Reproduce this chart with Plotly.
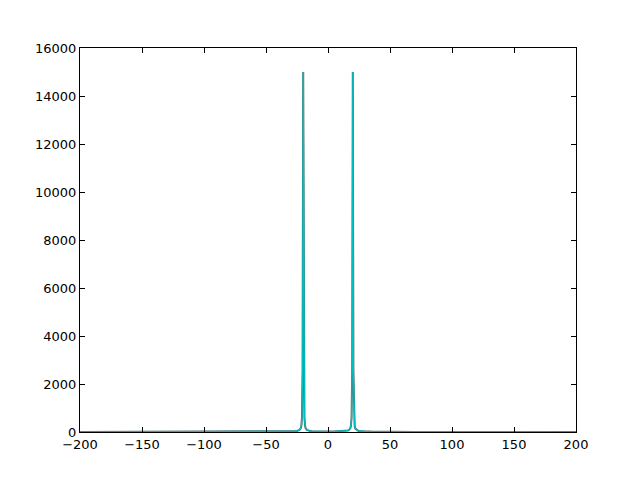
import plotly.graph_objects as go

freq = [-200, -150, -100, -70, -50, -40, -35, -30, -27, -25, -24, -23, -22, -21.5, -21, -20.5, -20,
        -19.5, -19, -18.5, -18, -17, -16, -15, -13, -10, -5, 0,
        5, 10, 13, 15, 16, 17, 18, 18.5, 19, 19.5,
        20, 20.5, 21, 21.5, 22, 23, 24, 25, 27, 30, 35, 40, 50, 70, 100, 150, 200]
mag = [1, 2, 3, 5, 8, 12, 16, 24, 32, 45, 60, 85, 150, 250, 600, 2500, 15000,
       2500, 600, 260, 155, 90, 62, 48, 35, 27, 22, 20,
       22, 27, 35, 48, 62, 90, 155, 260, 600, 2500,
       15000, 2500, 600, 250, 150, 85, 60, 45, 32, 24, 16, 12, 8, 5, 3, 2, 1]

x_ticks = [-200, -150, -100, -50, 0, 50, 100, 150, 200]
y_ticks = [0, 2000, 4000, 6000, 8000, 10000, 12000, 14000, 16000]

fig = go.Figure()
fig.add_trace(go.Scatter(x=freq, y=mag, mode="lines",
                         line=dict(color="#4f6e72", width=2.0), hoverinfo="skip"))
fig.add_trace(go.Scatter(x=freq, y=mag, mode="lines",
                         line=dict(color="#00bfbf", width=1.2)))

axis_common = dict(showline=True, linecolor="black", linewidth=1, mirror="ticks",
                   ticks="inside", ticklen=5, tickcolor="black", showgrid=False,
                   zeroline=False, tickfont=dict(family="DejaVu Sans", size=13, color="black"))

fig.update_layout(
    width=632, height=472,
    margin=dict(l=72, r=64, t=40, b=48),
    paper_bgcolor="white", plot_bgcolor="white",
    showlegend=False,
    xaxis=dict(range=[-200, 200], tickvals=x_ticks,
               ticktext=[str(v).replace("-", "\u2212") for v in x_ticks], **axis_common),
    yaxis=dict(range=[0, 16000], tickvals=y_ticks,
               ticktext=[str(v) for v in y_ticks], **axis_common),
)

fig.write_html("out.html")
